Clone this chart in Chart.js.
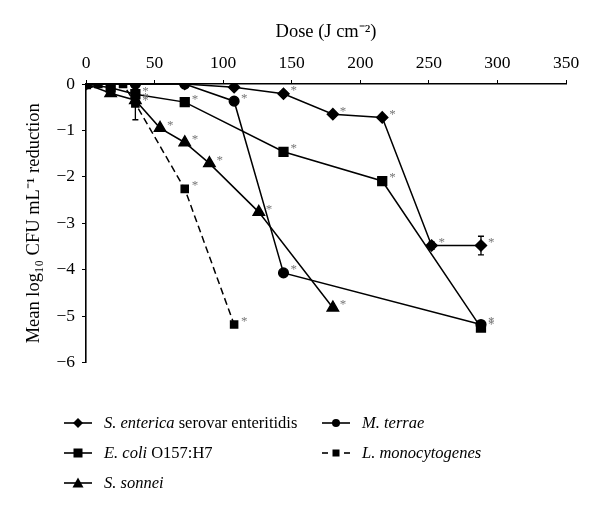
<!DOCTYPE html>
<html>
<head>
<meta charset="utf-8">
<script src="https://cdn.jsdelivr.net/npm/chart.js@4"></script>
<style>
  body { margin: 0; background: #fff; font-family: "Liberation Serif", serif; }
  #wrap { position: relative; width: 600px; height: 514px; }
  #legend { position: absolute; left: 0; top: 0; width: 600px; height: 514px; pointer-events: none; }
  .item { position: absolute; font-size: 16.5px; color: #000; display: flex; align-items: center; white-space: nowrap; }
  .item svg { margin-right: 12px; }
</style>
</head>
<body>
<div id="wrap">
  <canvas id="doseChart" width="600" height="380"></canvas>
  <div id="legend"></div>
</div>
<script>
// dose (J cm-2) and mean log10 reduction per organism
var entericaDose = [0, 36, 72, 108, 144, 180, 216, 252, 288];
var entericaVal  = [0, 0, 0, -0.07, -0.21, -0.65, -0.72, -3.48, -3.48];
var entericaErr  = [0, 0, 0, 0, 0, 0, 0, 0.08, 0.2];
var entericaStar = [0, 0, 0, 0, 1, 1, 1, 1, 1];

var coliDose = [0, 18, 36, 72, 144, 216, 288];
var coliVal  = [0, -0.08, -0.22, -0.39, -1.46, -2.09, -5.25];
var coliStar = [0, 0, 1, 1, 1, 1, 1];

var sonneiDose = [0, 18, 36, 54, 72, 90, 126, 180];
var sonneiVal  = [0, -0.2, -0.35, -0.95, -1.26, -1.71, -2.76, -4.82];
var sonneiStar = [0, 0, 1, 1, 1, 1, 1, 1];

var terraeDose = [0, 36, 72, 108, 144, 288];
var terraeVal  = [0, 0, 0, -0.37, -4.07, -5.18];
var terraeStar = [0, 0, 0, 1, 1, 1];

var monoDose = [0, 9, 18, 27, 36, 72, 108];
var monoVal  = [0, 0, 0, 0, -0.42, -2.26, -5.18];
var monoErr  = [0, 0, 0, 0, 0.35, 0, 0];
var monoStar = [0, 0, 0, 0, 1, 1, 1];

var xTicks = [0, 50, 100, 150, 200, 250, 300, 350];
var yTicks = [0, -1, -2, -3, -4, -5, -6];

var legendNames = [
  '<i>S. enterica</i> serovar enteritidis',
  '<i>E. coli</i> O157:H7',
  '<i>S. sonnei</i>',
  '<i>M. terrae</i>',
  '<i>L. monocytogenes</i>'
];

function pts(xs, ys) {
  return xs.map(function (x, i) { return { x: x, y: ys[i] }; });
}

var serif = '"Liberation Serif", serif';

var extras = {
  id: 'extras',
  afterDatasetsDraw: function (chart) {
    var ctx = chart.ctx;
    var ys = chart.scales.y;
    ctx.save();
    chart.data.datasets.forEach(function (ds, i) {
      var meta = chart.getDatasetMeta(i);
      meta.data.forEach(function (el, j) {
        if (ds.errs && ds.errs[j]) {
          var v = ds.data[j].y;
          var top = ys.getPixelForValue(v + ds.errs[j]);
          var bot = ys.getPixelForValue(v - ds.errs[j]);
          ctx.strokeStyle = '#000';
          ctx.lineWidth = 1.3;
          ctx.beginPath();
          ctx.moveTo(el.x, top); ctx.lineTo(el.x, bot);
          ctx.moveTo(el.x - 3, top); ctx.lineTo(el.x + 3, top);
          ctx.moveTo(el.x - 3, bot); ctx.lineTo(el.x + 3, bot);
          ctx.stroke();
        }
        if (ds.stars && ds.stars[j]) {
          ctx.fillStyle = '#777';
          ctx.font = '13px ' + serif;
          ctx.textAlign = 'left';
          ctx.textBaseline = 'middle';
          ctx.fillText('*', el.x + 7, el.y - 3);
        }
      });
    });
    ctx.restore();
  }
};

var base = { borderColor: '#000', backgroundColor: '#000', borderWidth: 1.5,
  pointBorderColor: '#000', pointBackgroundColor: '#000', showLine: true, fill: false, tension: 0 };

var datasets = [
  Object.assign({}, base, { label: 'S. enterica', data: pts(entericaDose, entericaVal),
    pointStyle: 'rectRot', pointRadius: 5.5, errs: entericaErr, stars: entericaStar }),
  Object.assign({}, base, { label: 'E. coli', data: pts(coliDose, coliVal),
    pointStyle: 'rect', pointRadius: 6.2, stars: coliStar }),
  Object.assign({}, base, { label: 'S. sonnei', data: pts(sonneiDose, sonneiVal),
    pointStyle: 'triangle', pointRadius: 6.5, stars: sonneiStar }),
  Object.assign({}, base, { label: 'M. terrae', data: pts(terraeDose, terraeVal),
    pointStyle: 'circle', pointRadius: 4.8, stars: terraeStar }),
  Object.assign({}, base, { label: 'L. monocytogenes', data: pts(monoDose, monoVal),
    pointStyle: 'rect', pointRadius: 5, borderDash: [7, 4], errs: monoErr, stars: monoStar })
];

new Chart(document.getElementById('doseChart').getContext('2d'), {
  type: 'scatter',
  data: { datasets: datasets },
  options: {
    responsive: false,
    animation: false,
    layout: { padding: { left: 0, right: 34, top: 0, bottom: 17 } },
    plugins: { legend: { display: false }, tooltip: { enabled: false } },
    scales: {
      x: {
        type: 'linear', position: 'top', min: 0, max: 350,
        afterBuildTicks: function (s) { s.ticks = xTicks.map(function (v) { return { value: v }; }); },
        afterFit: function (s) { s.height = 84; },
        border: { display: true, color: '#000', width: 1.6 },
        grid: { drawOnChartArea: false, drawTicks: true, tickLength: 4, color: '#000' },
        ticks: { color: '#000', padding: 6, maxRotation: 0, font: { family: serif, size: 17.5 } },
        title: { display: true, text: 'Dose (J cm\u207B\u00B2)', color: '#000',
          padding: { top: 21 }, font: { family: serif, size: 18.5 } }
      },
      y: {
        type: 'linear', min: -6, max: 0,
        afterBuildTicks: function (s) { s.ticks = yTicks.map(function (v) { return { value: v }; }); },
        afterFit: function (s) { s.width = 86; },
        border: { display: true, color: '#000', width: 1.6 },
        grid: { drawOnChartArea: false, drawTicks: true, tickLength: 4, color: '#000' },
        ticks: { color: '#000', padding: 7, font: { family: serif, size: 17.5 },
          callback: function (v) { return v < 0 ? '\u2212' + Math.abs(v) : String(v); } },
        title: { display: true, text: 'Mean log\u2081\u2080 CFU mL\u207B\u00B9 reduction', color: '#000',
          padding: { top: 23 }, font: { family: serif, size: 18.5 } }
      }
    }
  },
  plugins: [extras]
});

// legend built from the same names / marker styles
var legendPos = [[64, 424], [64, 454], [64, 484], [322, 424], [322, 454]];
var shapes = ['diamond', 'square', 'triangle', 'circle', 'small'];
function symbol(kind, dashed) {
  var line = dashed
    ? '<line x1="0" y1="7" x2="6" y2="7" stroke="#000" stroke-width="1.6"/><line x1="22" y1="7" x2="28" y2="7" stroke="#000" stroke-width="1.6"/>'
    : '<line x1="0" y1="7" x2="28" y2="7" stroke="#000" stroke-width="1.6"/>';
  var m = '';
  if (kind === 'diamond') m = '<polygon points="14,2 19,7 14,12 9,7"/>';
  if (kind === 'square') m = '<rect x="9.5" y="2.5" width="9" height="9"/>';
  if (kind === 'triangle') m = '<polygon points="14,1.5 19.5,11.5 8.5,11.5"/>';
  if (kind === 'circle') m = '<circle cx="14" cy="7" r="4"/>';
  if (kind === 'small') m = '<rect x="10.5" y="3.5" width="7" height="7"/>';
  return '<svg width="28" height="14">' + line + '<g fill="#000">' + m + '</g></svg>';
}
var lg = document.getElementById('legend');
legendNames.forEach(function (name, i) {
  var d = document.createElement('div');
  d.className = 'item';
  d.style.left = legendPos[i][0] + 'px';
  d.style.top = (legendPos[i][1] - 11) + 'px';
  d.innerHTML = symbol(shapes[i], i === 4) + '<span>' + name + '</span>';
  lg.appendChild(d);
});
</script>
</body>
</html>
